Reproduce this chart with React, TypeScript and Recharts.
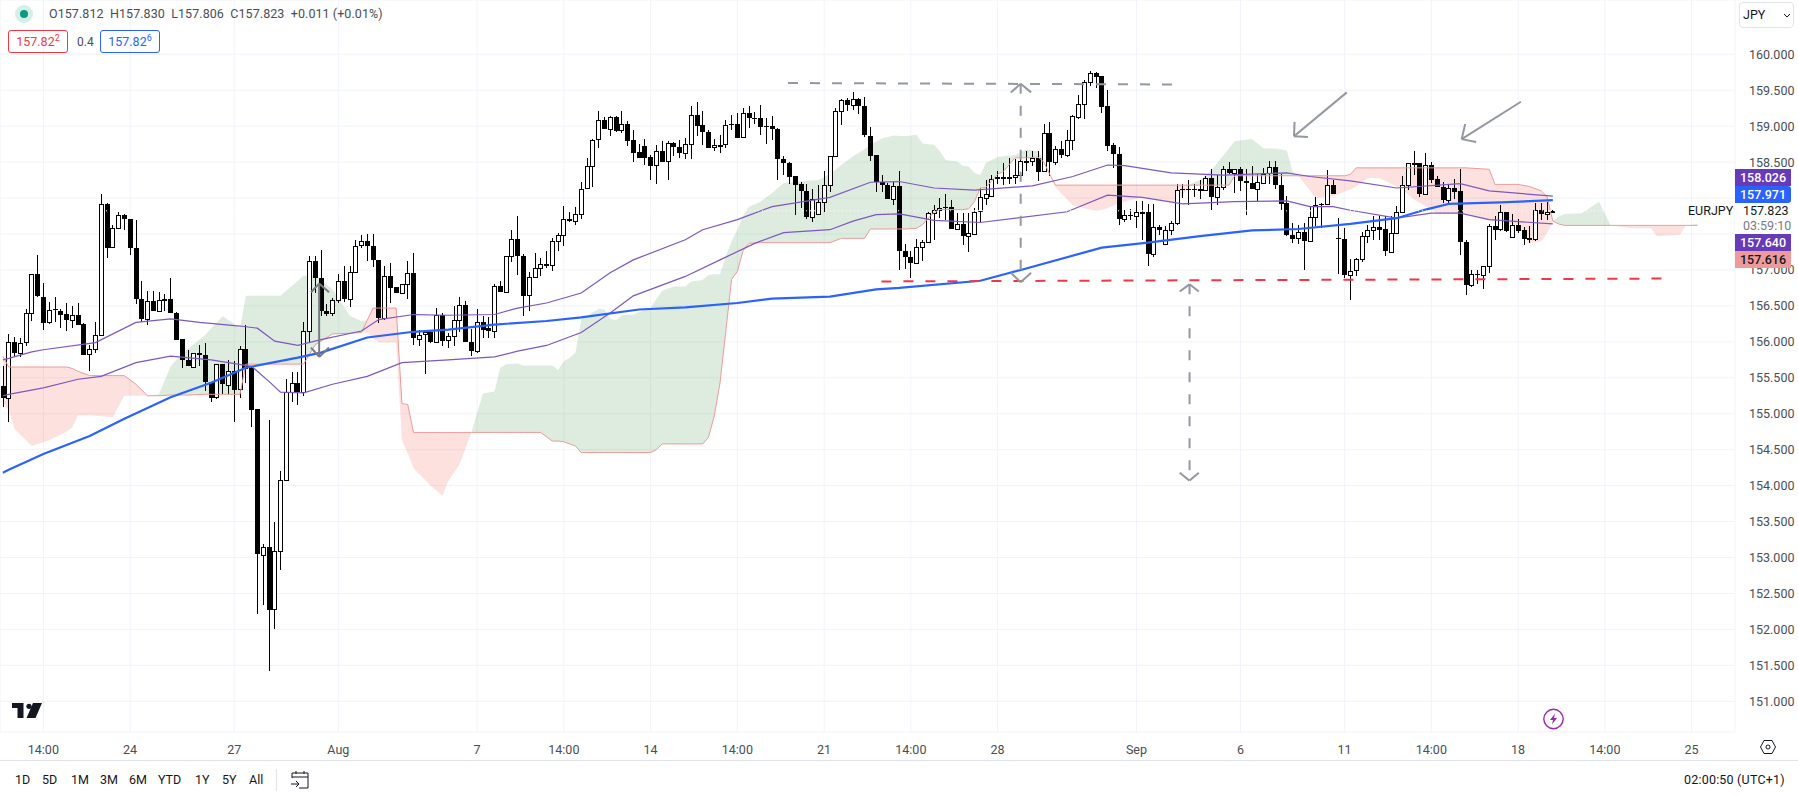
import { ComposedChart, Bar, Line, Area, XAxis, YAxis, CartesianGrid, ReferenceLine } from 'recharts';

const FONT = 'Roboto, Arial, sans-serif';

const opens = [
  155.38, 155.22, 156.00, 155.85, 155.99, 156.40, 156.94, 156.63, 156.27, 156.45,
  156.43, 156.39, 156.30, 156.38, 156.25, 155.83, 155.90, 156.10, 157.92, 157.31,
  157.58, 157.76, 157.71, 157.31, 156.60, 156.32, 156.57, 156.43, 156.58, 156.59,
  156.40, 156.04, 155.75, 155.66, 155.85, 155.82, 155.44, 155.23, 155.69, 155.41,
  155.60, 155.35, 155.90, 155.63, 155.06, 153.04, 153.15, 152.28, 153.09, 154.08,
  155.30, 155.43, 155.30, 156.15, 157.12, 156.89, 156.43, 156.40, 156.58, 156.85,
  156.60, 156.97, 157.34, 157.40, 157.33, 157.14, 156.34, 156.92, 156.76, 156.68,
  156.81, 156.96, 156.05, 156.10, 156.13, 155.99, 156.38, 156.02, 156.08, 156.30,
  156.51, 156.00, 155.88, 156.28, 156.19, 156.15, 156.77, 156.69, 157.19, 157.43,
  157.20, 156.65, 156.90, 157.03, 157.06, 157.06, 157.40, 157.49, 157.71, 157.68,
  157.78, 158.14, 158.45, 158.81, 159.08, 158.96, 159.13, 158.94, 159.03, 158.81,
  158.64, 158.73, 158.57, 158.45, 158.66, 158.51, 158.76, 158.71, 158.62, 158.75,
  159.16, 159.01, 158.92, 158.71, 158.73, 158.74, 159.03, 159.03, 158.84, 159.18,
  159.12, 159.12, 159.00, 159.00, 158.96, 158.55, 158.49, 158.31, 158.19, 158.10,
  157.74, 157.78, 157.94, 158.18, 158.58, 159.21, 159.36, 159.29, 159.38, 159.28,
  158.87, 158.60, 158.22, 158.18, 157.99, 158.17, 157.27, 157.18, 157.10, 157.32,
  157.38, 157.79, 157.83, 157.88, 157.88, 157.57, 157.64, 157.47, 157.51, 157.81,
  158.01, 158.04, 158.27, 158.29, 158.27, 158.29, 158.32, 158.51, 158.52, 158.56,
  158.37, 158.90, 158.50, 158.68, 158.60, 158.81, 159.13, 159.31, 159.61, 159.74,
  159.70, 159.28, 158.74, 158.61, 157.70, 157.76, 157.74, 157.80, 157.81, 157.23,
  157.60, 157.36, 157.55, 157.65, 158.12, 158.12, 158.12, 158.11, 158.12, 158.28,
  158.01, 158.15, 158.40, 158.34, 158.40, 158.24, 158.21, 158.12, 158.22, 158.34,
  158.43, 158.18, 157.93, 157.49, 157.44, 157.53, 157.40, 157.74, 157.92, 157.91,
  158.18, 157.45, 157.43, 156.93, 157.00, 157.15, 157.47, 157.56, 157.60, 157.57,
  157.26, 157.52, 157.81, 158.18, 158.48, 158.49, 158.06, 158.46, 158.26, 158.15,
  157.97, 158.14, 158.10, 157.39, 156.79, 156.95, 156.93, 157.05, 157.61, 157.56,
  157.80, 157.47, 157.63, 157.56, 157.43, 157.43, 157.84, 157.78, 157.812,
];
const highs = [
  155.66, 156.11, 156.07, 156.05, 156.46, 156.94, 157.21, 156.82, 156.56, 156.63,
  156.45, 156.54, 156.50, 156.54, 156.26, 155.95, 156.28, 158.05, 157.93, 157.63,
  157.81, 157.78, 157.71, 157.69, 156.85, 156.71, 156.71, 156.70, 156.66, 156.89,
  156.41, 156.04, 155.88, 155.85, 155.96, 155.99, 155.44, 155.69, 155.69, 155.75,
  155.73, 155.94, 156.24, 155.66, 155.06, 153.19, 154.91, 153.50, 154.21, 155.48,
  155.58, 155.58, 156.28, 157.20, 157.20, 157.28, 156.53, 156.61, 156.94, 157.05,
  157.06, 157.41, 157.49, 157.50, 157.50, 157.14, 157.06, 157.09, 156.76, 156.81,
  157.13, 157.24, 156.17, 156.17, 156.15, 156.47, 156.40, 156.12, 156.50, 156.63,
  156.57, 156.18, 156.45, 156.36, 156.34, 156.81, 156.85, 157.19, 157.55, 157.75,
  157.22, 156.97, 157.24, 157.17, 157.27, 157.44, 157.52, 157.89, 157.81, 157.88,
  158.22, 158.56, 158.82, 159.21, 159.13, 159.14, 159.14, 159.21, 159.07, 158.94,
  158.75, 158.82, 158.60, 158.74, 158.80, 158.80, 158.78, 158.81, 158.84, 159.28,
  159.33, 159.21, 158.94, 158.82, 158.88, 159.08, 159.16, 159.19, 159.25, 159.28,
  159.20, 159.30, 159.11, 159.14, 158.97, 158.58, 158.50, 158.31, 158.23, 158.20,
  158.12, 158.18, 158.38, 158.59, 159.25, 159.38, 159.39, 159.48, 159.39, 159.40,
  158.99, 158.60, 158.32, 158.21, 158.22, 158.37, 157.36, 157.27, 157.43, 157.42,
  157.81, 157.90, 158.00, 158.05, 157.97, 157.79, 157.79, 157.79, 157.86, 158.14,
  158.25, 158.32, 158.37, 158.49, 158.56, 158.54, 158.58, 158.66, 158.66, 158.66,
  159.03, 159.06, 158.73, 158.79, 158.94, 159.16, 159.44, 159.64, 159.77, 159.75,
  159.70, 159.50, 158.77, 158.71, 157.84, 157.85, 157.96, 157.96, 157.92, 157.92,
  157.63, 157.61, 157.68, 158.19, 158.20, 158.25, 158.20, 158.25, 158.31, 158.41,
  158.32, 158.44, 158.50, 158.40, 158.43, 158.41, 158.45, 158.33, 158.42, 158.52,
  158.52, 158.33, 158.03, 157.65, 157.63, 157.65, 157.88, 158.01, 157.93, 158.39,
  158.25, 157.72, 157.58, 157.15, 157.17, 157.53, 157.62, 157.75, 157.75, 157.75,
  157.75, 157.89, 158.30, 158.49, 158.66, 158.49, 158.62, 158.50, 158.30, 158.22,
  158.19, 158.26, 158.41, 157.42, 157.00, 157.00, 157.06, 157.64, 157.75, 157.91,
  157.80, 157.78, 157.71, 157.60, 157.61, 157.93, 157.93, 157.94, 157.830,
];
const lows = [
  155.09, 154.88, 155.80, 155.79, 155.94, 156.29, 156.62, 156.16, 156.25, 156.27,
  156.19, 156.15, 156.19, 156.24, 155.82, 155.59, 155.85, 156.08, 157.16, 157.30,
  157.58, 157.56, 157.21, 156.53, 156.27, 156.24, 156.43, 156.43, 156.43, 156.40,
  156.03, 155.63, 155.66, 155.66, 155.66, 155.31, 155.16, 155.21, 155.27, 155.27,
  154.88, 155.22, 155.43, 154.82, 152.21, 152.34, 151.42, 152.01, 152.82, 154.08,
  155.16, 155.12, 155.24, 155.99, 156.68, 156.36, 156.36, 156.36, 156.54, 156.56,
  156.49, 156.97, 157.30, 157.13, 157.04, 156.26, 156.30, 156.54, 156.68, 156.68,
  156.59, 155.96, 155.94, 155.55, 155.99, 155.98, 155.94, 155.92, 155.94, 156.13,
  156.00, 155.80, 155.85, 156.06, 156.06, 156.06, 156.69, 156.69, 157.11, 156.93,
  156.36, 156.43, 156.90, 156.91, 157.03, 156.99, 157.26, 157.34, 157.67, 157.63,
  157.71, 158.12, 158.15, 158.70, 158.96, 158.86, 158.92, 158.91, 158.72, 158.50,
  158.56, 158.46, 158.25, 158.19, 158.51, 158.25, 158.59, 158.56, 158.54, 158.55,
  158.86, 158.74, 158.69, 158.65, 158.63, 158.69, 158.95, 158.84, 158.84, 158.98,
  159.03, 158.88, 158.75, 158.81, 158.25, 158.32, 158.19, 157.77, 157.86, 157.71,
  157.67, 157.78, 157.80, 158.09, 158.58, 159.01, 159.21, 159.23, 159.17, 158.85,
  158.51, 158.09, 158.09, 157.99, 157.90, 157.00, 157.01, 156.89, 157.09, 157.12,
  157.37, 157.41, 157.72, 157.70, 157.57, 157.57, 157.35, 157.25, 157.50, 157.65,
  157.91, 158.04, 158.19, 158.18, 158.20, 158.20, 158.25, 158.38, 158.44, 158.24,
  158.36, 158.31, 158.46, 158.56, 158.57, 158.67, 159.10, 159.10, 159.56, 159.53,
  159.19, 158.66, 158.42, 157.62, 157.67, 157.69, 157.58, 157.42, 157.06, 157.18,
  157.48, 157.35, 157.48, 157.62, 158.00, 157.91, 158.02, 157.99, 158.11, 157.83,
  157.90, 158.11, 158.34, 158.07, 158.10, 157.77, 158.12, 157.96, 158.21, 158.20,
  158.12, 157.84, 157.47, 157.37, 157.36, 157.00, 157.40, 157.61, 157.59, 157.91,
  158.05, 156.95, 156.89, 156.58, 156.91, 157.11, 157.37, 157.42, 157.41, 157.19,
  157.26, 157.52, 157.81, 158.11, 158.32, 158.01, 158.06, 158.21, 158.15, 157.93,
  157.92, 157.99, 157.21, 156.65, 156.76, 156.80, 156.74, 156.96, 157.42, 157.54,
  157.53, 157.47, 157.51, 157.35, 157.37, 157.40, 157.70, 157.70, 157.806,
];
const closes = [
  155.22, 156.00, 155.85, 155.99, 156.40, 156.94, 156.63, 156.27, 156.44, 156.43,
  156.38, 156.30, 156.37, 156.24, 155.82, 155.90, 156.10, 157.92, 157.31, 157.58,
  157.76, 157.71, 157.30, 156.60, 156.32, 156.57, 156.43, 156.58, 156.59, 156.40,
  156.03, 155.75, 155.66, 155.85, 155.82, 155.44, 155.22, 155.69, 155.41, 155.60,
  155.34, 155.90, 155.62, 155.05, 153.04, 153.15, 152.28, 153.09, 154.08, 155.30,
  155.43, 155.30, 156.15, 157.12, 156.88, 156.43, 156.39, 156.58, 156.84, 156.60,
  156.97, 157.33, 157.40, 157.33, 157.13, 156.33, 156.92, 156.76, 156.68, 156.81,
  156.96, 156.05, 156.10, 156.13, 155.99, 156.37, 156.02, 156.08, 156.30, 156.51,
  156.00, 155.88, 156.28, 156.17, 156.15, 156.77, 156.69, 157.19, 157.43, 157.19,
  156.65, 156.90, 157.03, 157.08, 157.08, 157.40, 157.49, 157.71, 157.68, 157.78,
  158.13, 158.45, 158.81, 159.08, 158.96, 159.13, 158.94, 159.03, 158.80, 158.63,
  158.56, 158.57, 158.45, 158.65, 158.51, 158.76, 158.70, 158.62, 158.75, 159.15,
  159.01, 158.91, 158.70, 158.74, 158.74, 159.01, 159.01, 158.84, 159.18, 159.11,
  159.11, 158.99, 158.99, 158.96, 158.54, 158.49, 158.30, 158.19, 158.09, 157.74,
  157.99, 157.94, 158.18, 158.58, 159.21, 159.36, 159.29, 159.38, 159.28, 158.87,
  158.59, 158.22, 158.18, 157.99, 158.17, 157.26, 157.18, 157.10, 157.32, 157.39,
  157.79, 157.83, 157.86, 157.86, 157.57, 157.64, 157.47, 157.51, 157.81, 158.01,
  158.06, 158.27, 158.29, 158.26, 158.29, 158.32, 158.51, 158.52, 158.56, 158.37,
  158.90, 158.50, 158.68, 158.59, 158.81, 159.14, 159.31, 159.61, 159.74, 159.69,
  159.27, 158.73, 158.61, 157.70, 157.76, 157.75, 157.80, 157.80, 157.23, 157.60,
  157.56, 157.55, 157.65, 158.11, 158.11, 158.11, 158.11, 158.12, 158.28, 158.01,
  158.15, 158.40, 158.34, 158.40, 158.23, 158.21, 158.12, 158.22, 158.34, 158.43,
  158.18, 157.92, 157.48, 157.44, 157.53, 157.40, 157.74, 157.90, 157.90, 158.18,
  158.05, 157.43, 156.93, 156.99, 157.15, 157.47, 157.56, 157.60, 157.56, 157.26,
  157.52, 157.81, 158.18, 158.49, 158.49, 158.06, 158.46, 158.25, 158.15, 157.97,
  158.14, 158.09, 157.39, 156.79, 156.94, 156.93, 157.05, 157.61, 157.56, 157.80,
  157.53, 157.63, 157.55, 157.43, 157.44, 157.84, 157.78, 157.81, 157.823,
];

// lines are read at turning points only, the index goes with the value
const maSlowIdx = [0, 1, 5, 7, 16, 23, 29, 34, 41, 44, 47, 51, 55, 62, 65, 71, 77, 85, 89, 94, 100, 105, 109, 118, 121, 127, 133, 143, 150, 155, 161, 168, 178, 185, 191, 194, 202, 211, 222, 226, 233, 241, 252, 257, 268];
const maSlow = [155.75, 155.77, 155.86, 155.89, 155.99, 156.27, 156.32, 156.27, 156.22, 156.19, 156.01, 155.95, 156.03, 156.15, 156.31, 156.38, 156.37, 156.38, 156.47, 156.54, 156.68, 156.96, 157.14, 157.42, 157.56, 157.70, 157.88, 158.01, 158.22, 158.23, 158.14, 158.11, 158.17, 158.30, 158.46, 158.45, 158.35, 158.32, 158.35, 158.30, 158.24, 158.14, 158.20, 158.10, 158.026];
const maFastIdx = [0, 1, 7, 13, 17, 23, 29, 36, 43, 46, 48, 52, 57, 63, 69, 77, 85, 89, 94, 100, 105, 109, 118, 124, 130, 135, 143, 147, 151, 155, 161, 169, 184, 191, 197, 204, 213, 222, 226, 230, 233, 241, 247, 252, 257, 268];
const maFast = [155.25, 155.27, 155.36, 155.48, 155.52, 155.71, 155.80, 155.75, 155.66, 155.45, 155.30, 155.29, 155.41, 155.52, 155.71, 155.75, 155.79, 155.87, 155.95, 156.13, 156.40, 156.64, 156.91, 157.14, 157.37, 157.52, 157.56, 157.68, 157.77, 157.78, 157.69, 157.66, 157.81, 158.04, 158.01, 157.92, 157.95, 157.96, 157.88, 157.88, 157.83, 157.72, 157.79, 157.79, 157.70, 157.640];
const ma200Idx = [0, 1, 7, 15, 21, 29, 36, 42, 51, 55, 63, 71, 77, 85, 94, 100, 110, 118, 127, 133, 143, 151, 155, 169, 176, 190, 198, 207, 216, 224, 233, 241, 246, 250, 259, 268];
const ma200 = [154.18, 154.22, 154.44, 154.69, 154.93, 155.23, 155.43, 155.64, 155.78, 155.85, 156.06, 156.14, 156.17, 156.24, 156.29, 156.34, 156.45, 156.48, 156.54, 156.60, 156.63, 156.73, 156.75, 156.85, 157.00, 157.31, 157.38, 157.47, 157.55, 157.57, 157.64, 157.72, 157.84, 157.92, 157.94, 157.971];

const cloudIdx = [0, 1, 2, 5, 8, 11, 12, 13, 15, 19, 21, 23, 25, 27, 29, 30, 32, 35, 38, 41, 42, 48, 52, 54, 57, 60, 62, 63, 64, 65, 68, 69, 70, 71, 74, 76, 77, 79, 81, 82, 83, 85, 86, 87, 89, 90, 93, 95, 96, 97, 98, 99, 100, 103, 104, 105, 106, 107, 109, 112, 113, 114, 116, 118, 119, 121, 122, 123, 124, 125, 126, 127, 128, 129, 131, 133, 135, 139, 141, 143, 145, 147, 149, 150, 152, 154, 156, 158, 159, 160, 161, 162, 163, 165, 166, 167, 168, 169, 170, 172, 173, 175, 177, 179, 180, 181, 182, 185, 189, 191, 193, 197, 203, 205, 206, 207, 209, 212, 213, 216, 218, 220, 222, 223, 224, 227, 230, 232, 233, 234, 236, 238, 242, 244, 248, 253, 257, 258, 262, 264, 266, 267, 268, 269, 270, 273, 276, 278, 282, 285, 286, 290, 291, 293];
const leadA = [155.16, 155.05, 154.79, 154.55, 154.63, 154.75, 154.81, 154.98, 154.98, 154.95, 155.25, 155.25, 155.25, 155.27, 155.66, 155.75, 155.90, 156.10, 156.36, 156.19, 156.64, 156.64, 156.92, 156.92, 156.73, 156.36, 156.29, 156.13, 156.05, 155.99, 155.99, 154.63, 154.45, 154.24, 154.00, 153.86, 154.06, 154.30, 154.74, 155.01, 155.28, 155.31, 155.64, 155.69, 155.70, 155.67, 155.67, 155.67, 155.61, 155.73, 155.78, 155.85, 156.31, 156.46, 156.45, 156.32, 156.30, 156.37, 156.38, 156.47, 156.60, 156.71, 156.77, 156.77, 156.84, 156.86, 156.93, 156.94, 156.94, 157.19, 157.40, 157.56, 157.75, 157.88, 157.95, 158.07, 158.21, 158.24, 158.25, 158.33, 158.46, 158.58, 158.68, 158.74, 158.83, 158.87, 158.86, 158.88, 158.76, 158.75, 158.74, 158.65, 158.53, 158.51, 158.45, 158.44, 158.35, 158.32, 158.49, 158.57, 158.58, 158.60, 158.68, 158.65, 158.55, 158.33, 158.15, 157.90, 157.82, 157.86, 157.93, 158.01, 157.94, 158.15, 158.22, 158.25, 158.39, 158.69, 158.79, 158.82, 158.69, 158.69, 158.66, 158.37, 158.31, 158.00, 158.02, 158.09, 158.12, 158.16, 158.28, 158.28, 158.12, 157.98, 157.79, 157.79, 157.70, 157.68, 157.62, 157.37, 157.40, 157.51, 157.68, 157.74, 157.78, 157.79, 157.95, 157.62, 157.58, 157.58, 157.47, 157.49, 157.62, 157.64];
const leadB = [155.80, 155.65, 155.65, 155.65, 155.65, 155.65, 155.63, 155.59, 155.53, 155.53, 155.53, 155.41, 155.25, 155.25, 155.26, 155.26, 155.26, 155.27, 155.27, 155.27, 155.69, 155.69, 155.69, 155.96, 156.11, 156.12, 156.13, 156.30, 156.47, 156.47, 156.47, 155.14, 155.13, 154.74, 154.74, 154.74, 154.74, 154.74, 154.74, 154.74, 154.74, 154.74, 154.74, 154.74, 154.74, 154.74, 154.74, 154.62, 154.62, 154.61, 154.58, 154.55, 154.46, 154.46, 154.46, 154.46, 154.46, 154.46, 154.46, 154.46, 154.50, 154.58, 154.58, 154.58, 154.58, 154.58, 154.67, 154.97, 155.43, 156.15, 156.87, 156.98, 157.27, 157.37, 157.38, 157.38, 157.38, 157.38, 157.38, 157.38, 157.44, 157.44, 157.44, 157.57, 157.57, 157.57, 157.57, 157.58, 157.63, 157.72, 157.80, 157.84, 157.84, 157.84, 157.84, 157.85, 157.95, 158.14, 158.15, 158.33, 158.37, 158.56, 158.56, 158.57, 158.50, 158.33, 158.18, 158.18, 158.18, 158.18, 158.18, 158.18, 158.18, 158.18, 158.18, 158.18, 158.18, 158.18, 158.31, 158.31, 158.31, 158.31, 158.31, 158.31, 158.31, 158.31, 158.31, 158.31, 158.33, 158.42, 158.42, 158.42, 158.42, 158.42, 158.42, 158.42, 158.40, 158.19, 158.19, 158.16, 158.10, 158.02, 157.68, 157.64, 157.62, 157.62, 157.62, 157.62, 157.62, 157.62, 157.62, 157.62, 157.62, 157.62];

const timeTicks = [7, 22, 40, 58, 82, 97, 112, 127, 142, 157, 172, 196, 214, 232, 247, 262, 277, 292];
const timeLabels = ['14:00', '24', '27', 'Aug', '7', '14:00', '14', '14:00', '21', '14:00', '28', 'Sep', '6', '11', '14:00', '18', '14:00', '25'];
const priceTicks = [151, 151.5, 152, 152.5, 153, 153.5, 154, 154.5, 155, 155.5, 156, 156.5, 157, 157.5, 158, 158.5, 159, 159.5, 160];
const coveredTicks = [157.5, 158];
const rangeButtons = [['1D', 15], ['5D', 42], ['1M', 71], ['3M', 100], ['6M', 129], ['YTD', 158], ['1Y', 195], ['5Y', 222], ['All', 249]];
const lastPrice = 157.823;

// drawings on the chart, [bar, price, bar, price]
const dashedGrey = [[135.8, 159.60, 202.1, 159.58], [175.9, 159.59, 175.9, 156.83], [205, 156.80, 205, 154.07]];
const dashedRed = [[151.9, 156.84, 286.7, 156.88]];
const solidGrey = [
  [174.2, 159.47, 175.9, 159.59], [175.9, 159.59, 177.7, 159.47],
  [174.2, 156.96, 175.9, 156.83], [175.9, 156.83, 177.7, 156.96],
  [203.3, 156.70, 205, 156.80], [205, 156.80, 206.6, 156.70],
  [203.3, 154.18, 205, 154.07], [205, 154.07, 206.6, 154.18],
  [232.1, 159.47, 223.0, 158.86], [223.1, 159.06, 223.0, 158.86], [225.4, 158.85, 223.0, 158.86],
  [262.1, 159.34, 251.9, 158.82], [252.5, 159.03, 251.9, 158.82], [254.4, 158.78, 251.9, 158.82],
];
const smallArrow = [
  [55, 156.81, 55, 155.79], [53.6, 156.69, 55, 156.81], [55, 156.81, 56.7, 156.69],
  [53.6, 155.92, 55, 155.79], [55, 155.79, 56.7, 155.92],
];

const rows: any[] = Array.from({ length: 300 }, (_, i) => ({ i }));
opens.forEach((_, i) => {
  rows[i].o = opens[i];
  rows[i].h = highs[i];
  rows[i].l = lows[i];
  rows[i].c = closes[i];
});
maSlowIdx.forEach((x, k) => { rows[x].slow = maSlow[k]; });
maFastIdx.forEach((x, k) => { rows[x].fast = maFast[k]; });
ma200Idx.forEach((x, k) => { rows[x].long = ma200[k]; });
cloudIdx.forEach((x, k) => { rows[x].a = leadA[k]; rows[x].b = leadB[k]; });

// body and wicks from the bar that spans low to high
function Candle(props: any) {
  const { x, y, width, height, payload } = props;
  if (payload.h === undefined) return null;
  const unit = height / (payload.h - payload.l);
  const cx = Math.round(x + width / 2) + 0.5;
  const up = payload.c >= payload.o;
  const top = y + (payload.h - Math.max(payload.o, payload.c)) * unit;
  const bh = Math.max(Math.abs(payload.o - payload.c) * unit, 1);
  return (
    <g shapeRendering="crispEdges">
      <line x1={cx} x2={cx} y1={y} y2={y + height} stroke="#000" strokeWidth={1} />
      {up
        ? <rect x={cx - 2} y={Math.round(top) + 0.5} width={4} height={Math.max(Math.round(bh), 1)} fill="#fff" stroke="#000" strokeWidth={1} />
        : <rect x={cx - 2.5} y={Math.round(top)} width={5} height={Math.max(Math.round(bh), 1)} fill="#000" />}
    </g>
  );
}

function Drawing({ segs, color, width, dash }: any) {
  return segs.map((s: number[], k: number) => (
    <ReferenceLine
      key={k}
      xAxisId="bars"
      segment={[{ x: s[0], y: s[1] }, { x: s[2], y: s[3] }]}
      stroke={color}
      strokeWidth={width}
      strokeDasharray={dash}
      ifOverflow="visible"
    />
  ));
}

const label: any = { position: 'absolute', fontFamily: FONT, whiteSpace: 'nowrap', lineHeight: 1 };

function Badge({ top, bg, color, text, radius }: any) {
  return (
    <div style={{ ...label, left: 1735, top, width: 56, height: 17, background: bg, color, fontSize: 12.5, lineHeight: '17px', fontWeight: 500, textAlign: 'center', borderRadius: radius }}>
      {text}
    </div>
  );
}

export default function App() {
  return (
    <div style={{ position: 'absolute', left: 0, top: 0, width: 1798, height: 796, background: '#fff', overflow: 'hidden' }}>
      <ComposedChart width={1798} height={760} data={rows} margin={{ top: 0, right: 0, bottom: 0, left: 0 }} barSize={5}>
        <CartesianGrid stroke="#f0f3fa" strokeWidth={1} />
        <XAxis
          dataKey="i"
          ticks={timeTicks}
          interval={0}
          height={28}
          axisLine={false}
          tickLine={false}
          tickMargin={7}
          tick={{ fontSize: 12.5, fill: '#4a4d57', fontFamily: FONT }}
          tickFormatter={(v: number) => timeLabels[timeTicks.indexOf(v)]}
        />
        <XAxis xAxisId="bars" type="number" domain={[-0.5, 299.5]} hide allowDataOverflow />
        <YAxis
          orientation="right"
          width={63}
          type="number"
          domain={[150.573, 160.755]}
          allowDataOverflow
          ticks={priceTicks}
          interval={0}
          axisLine={false}
          tickLine={false}
          tickMargin={8}
          tick={{ fontSize: 12.5, fill: '#4a4d57', fontFamily: FONT }}
          tickFormatter={(v: number) => (coveredTicks.includes(v) ? '' : v.toFixed(3))}
        />
        <Area dataKey={(d: any) => (d.a === undefined ? null : [d.b, Math.max(d.a, d.b)])} connectNulls stroke="none" fill="#388e3c" fillOpacity={0.17} activeDot={false} isAnimationActive={false} />
        <Area dataKey={(d: any) => (d.a === undefined ? null : [Math.min(d.a, d.b), d.b])} connectNulls stroke="none" fill="#f44336" fillOpacity={0.16} activeDot={false} isAnimationActive={false} />
        <Line dataKey="b" connectNulls dot={false} activeDot={false} stroke="#ef9a9a" strokeWidth={1} isAnimationActive={false} />
        <Line dataKey="slow" connectNulls dot={false} activeDot={false} stroke="#7e57c2" strokeWidth={1.2} isAnimationActive={false} />
        <Line dataKey="fast" connectNulls dot={false} activeDot={false} stroke="#7e57c2" strokeWidth={1.2} isAnimationActive={false} />
        <Line dataKey="long" connectNulls dot={false} activeDot={false} stroke="#2962ff" strokeWidth={2.2} isAnimationActive={false} />
        <Bar dataKey={(d: any) => (d.h === undefined ? null : [d.l, d.h])} shape={Candle} isAnimationActive={false} />
        <ReferenceLine y={lastPrice} stroke="#fff" strokeDasharray="1 3" />
        {Drawing({ segs: dashedGrey, color: '#9598a1', width: 2, dash: '10 12' })}
        {Drawing({ segs: dashedRed, color: '#f23645', width: 2, dash: '10 12' })}
        {Drawing({ segs: solidGrey, color: '#9598a1', width: 2 })}
        {Drawing({ segs: smallArrow, color: '#787b86', width: 2 })}
      </ComposedChart>

      {/* legend row */}
      <svg style={{ position: 'absolute', left: 14, top: 4 }} width={20} height={20}>
        <circle cx={10} cy={10} r={9} fill="#d5eee8" />
        <circle cx={10} cy={10} r={4} fill="#089981" />
      </svg>
      <div style={{ ...label, left: 49, top: 8, fontSize: 12.5, color: '#4a4d57', letterSpacing: 0.07 }}>
        O157.812&nbsp; H157.830&nbsp; L157.806&nbsp; C157.823&nbsp; +0.011 (+0.01%)
      </div>
      <div style={{ ...label, left: 8, top: 30, width: 58, height: 21, border: '1px solid #f23645', borderRadius: 3, color: '#f23645', fontSize: 12.5, lineHeight: '21px', textAlign: 'center' }}>
        157.82<sup style={{ fontSize: 9, lineHeight: 0 }}>2</sup>
      </div>
      <div style={{ ...label, left: 77, top: 36, fontSize: 12, color: '#4a4d57' }}>0.4</div>
      <div style={{ ...label, left: 100, top: 30, width: 58, height: 21, border: '1px solid #2962ff', borderRadius: 3, color: '#2962ff', fontSize: 12.5, lineHeight: '21px', textAlign: 'center' }}>
        157.82<sup style={{ fontSize: 9, lineHeight: 0 }}>6</sup>
      </div>

      {/* currency picker */}
      <div style={{ ...label, left: 1739, top: 2, width: 53, height: 24, border: '1px solid #e0e3eb', borderRadius: 4 }}>
        <span style={{ ...label, left: 3, top: 6, fontSize: 12.5, color: '#131722' }}>JPY</span>
        <svg style={{ position: 'absolute', left: 43, top: 10 }} width={8} height={6}>
          <path d="M1 1 L4 4 L7 1" fill="none" stroke="#131722" strokeWidth={1} />
        </svg>
      </div>

      {/* price scale labels */}
      <div style={{ ...label, left: 1735, top: 203, width: 60, height: 31, background: '#fff' }} />
      <Badge top={169} bg="#673ab7" color="#fff" text="158.026" />
      <Badge top={186} bg="#2962ff" color="#fff" text="157.971" radius="0 3px 3px 0" />
      <div style={{ ...label, left: 1743, top: 205, fontSize: 12.5, color: '#131722' }}>157.823</div>
      <div style={{ ...label, left: 1743, top: 220, fontSize: 12.5, color: '#787b86' }}>03:59:10</div>
      <Badge top={234} bg="#673ab7" color="#fff" text="157.640" />
      <Badge top={251} bg="#ef9a9a" color="#131722" text="157.616" />
      <div style={{ ...label, left: 1688, top: 205, fontSize: 12.5, color: '#131722' }}>EURJPY</div>

      {/* logo and small icons */}
      <svg style={{ position: 'absolute', left: 12, top: 703 }} width={31} height={16}>
        <path d="M0 0 H11.5 V15 H5.5 V5 H0 Z" fill="#131722" />
        <circle cx={17} cy={3.3} r={2.6} fill="#131722" />
        <path d="M21 0 H30 L23.5 15 H14.5 Z" fill="#131722" />
      </svg>
      <svg style={{ position: 'absolute', left: 1542, top: 708 }} width={24} height={24}>
        <circle cx={11.5} cy={11} r={9.7} fill="#fff" stroke="#9c27b0" strokeWidth={1.4} />
        <path d="M13 5.5 L8 12 H11 L10 16.5 L15 10 H12 Z" fill="#9c27b0" />
      </svg>
      <svg style={{ position: 'absolute', left: 1759, top: 738 }} width={18} height={18}>
        <path d="M5 2.5 H13 L16.5 9 L13 15.5 H5 L1.5 9 Z" fill="none" stroke="#131722" strokeWidth={1} />
        <circle cx={9} cy={9} r={2} fill="none" stroke="#131722" strokeWidth={1} />
      </svg>

      {/* bottom toolbar */}
      <div style={{ position: 'absolute', left: 0, top: 760, width: 1798, height: 1, background: '#e0e3eb' }} />
      {rangeButtons.map(([t, x]: any) => (
        <div key={t} style={{ ...label, left: x, top: 774, fontSize: 12.5, color: '#131722' }}>{t}</div>
      ))}
      <div style={{ position: 'absolute', left: 276, top: 769, width: 1, height: 22, background: '#e0e3eb' }} />
      <svg style={{ position: 'absolute', left: 290, top: 770 }} width={20} height={20}>
        <path d="M2 8 V3 H18 V18 H9 M2 7 H18 M6 1 V4 M14 1 V4 M1 14 H9 M6 11 L9 14 L6 17" fill="none" stroke="#131722" strokeWidth={1} />
      </svg>
      <div style={{ ...label, left: 1684, top: 774, fontSize: 12.5, color: '#131722', letterSpacing: 0.2 }}>02:00:50 (UTC+1)</div>
    </div>
  );
}
